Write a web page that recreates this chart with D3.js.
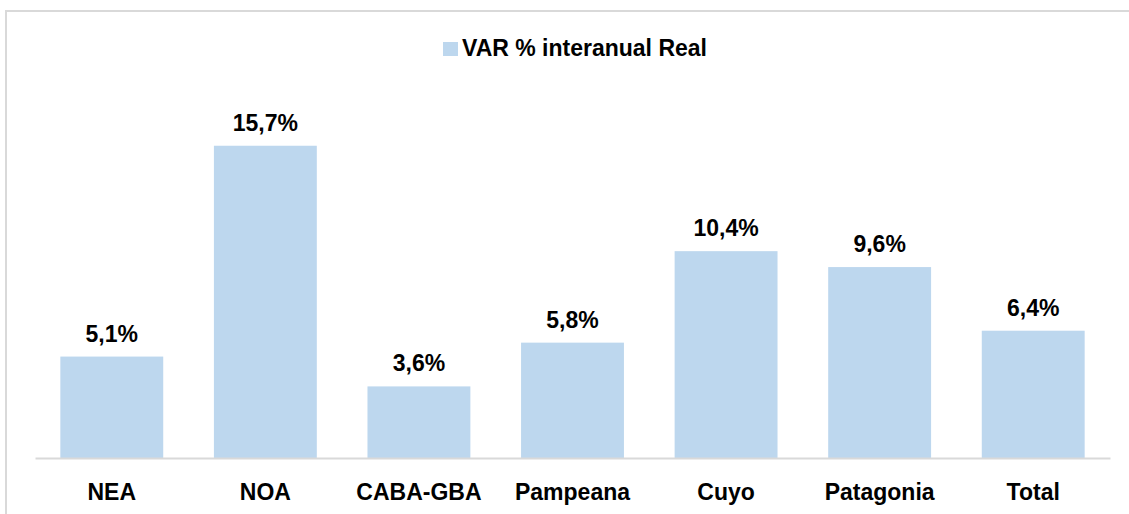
<!DOCTYPE html>
<html>
<head>
<meta charset="utf-8">
<script src="https://cdn.jsdelivr.net/npm/d3@7"></script>
<style>
  body { margin: 0; background: #fff; }
  svg { display: block; font-family: "Liberation Sans", Arial, sans-serif; }
</style>
</head>
<body>
<div id="chart"></div>
<script>
// Data
const regions = ["NEA", "NOA", "CABA-GBA", "Pampeana", "Cuyo", "Patagonia", "Total"];
const varReal = [5.1, 15.7, 3.6, 5.8, 10.4, 9.6, 6.4];
const seriesName = "VAR % interanual Real";

const W = 1129, H = 514;
const margin = { top: 100, right: 19, bottom: 56, left: 35 };
const width = W - margin.left - margin.right;
const height = H - margin.top - margin.bottom;

const svg = d3.select("#chart")
    .append("svg")
    .attr("width", W)
    .attr("height", H);

// Chart border (cropped at right and bottom)
svg.append("rect")
    .attr("x", 6)
    .attr("y", 11)
    .attr("width", W + 10)
    .attr("height", H + 10)
    .attr("fill", "none")
    .attr("stroke", "#d9d9d9")
    .attr("stroke-width", 2);

const g = svg.append("g")
    .attr("transform", `translate(${margin.left},${margin.top})`);

const xScale = d3.scaleBand()
    .domain(regions)
    .range([0, width])
    .paddingInner(0.33)
    .paddingOuter(0.165);

const yScale = d3.scaleLinear()
    .domain([0, 18])
    .range([height, 0]);

const fmt = v => v.toFixed(1).replace(".", ",") + "%";
const data = regions.map((r, i) => ({ region: r, value: varReal[i] }));

// Bars
g.selectAll(".bar")
    .data(data)
    .enter()
    .append("rect")
    .attr("class", "bar")
    .attr("x", d => xScale(d.region))
    .attr("y", d => yScale(d.value))
    .attr("width", xScale.bandwidth())
    .attr("height", d => height - yScale(d.value))
    .attr("fill", "#bdd7ee");

// Value labels
g.selectAll(".val")
    .data(data)
    .enter()
    .append("text")
    .attr("class", "val")
    .attr("x", d => xScale(d.region) + xScale.bandwidth() / 2)
    .attr("y", d => yScale(d.value) - 15)
    .attr("text-anchor", "middle")
    .style("font-size", "23px")
    .style("font-weight", "bold")
    .attr("fill", "#000")
    .text(d => fmt(d.value));

// X axis
const xAxis = g.append("g")
    .attr("transform", `translate(0,${height})`)
    .call(d3.axisBottom(xScale).tickSize(0));
xAxis.select(".domain").attr("stroke", "#d9d9d9").attr("stroke-width", 2);
xAxis.selectAll("text")
    .attr("dy", "0")
    .attr("y", 42)
    .style("font-size", "23px")
    .style("font-weight", "bold")
    .style("font-family", "'Liberation Sans', Arial, sans-serif")
    .attr("fill", "#000");

// Legend
const legend = svg.append("g")
    .attr("transform", "translate(443,42)");
legend.append("rect")
    .attr("width", 15)
    .attr("height", 14)
    .attr("fill", "#bdd7ee");
legend.append("text")
    .attr("x", 19)
    .attr("y", 14)
    .style("font-size", "23px")
    .style("font-weight", "bold")
    .text(seriesName);
</script>
</body>
</html>
